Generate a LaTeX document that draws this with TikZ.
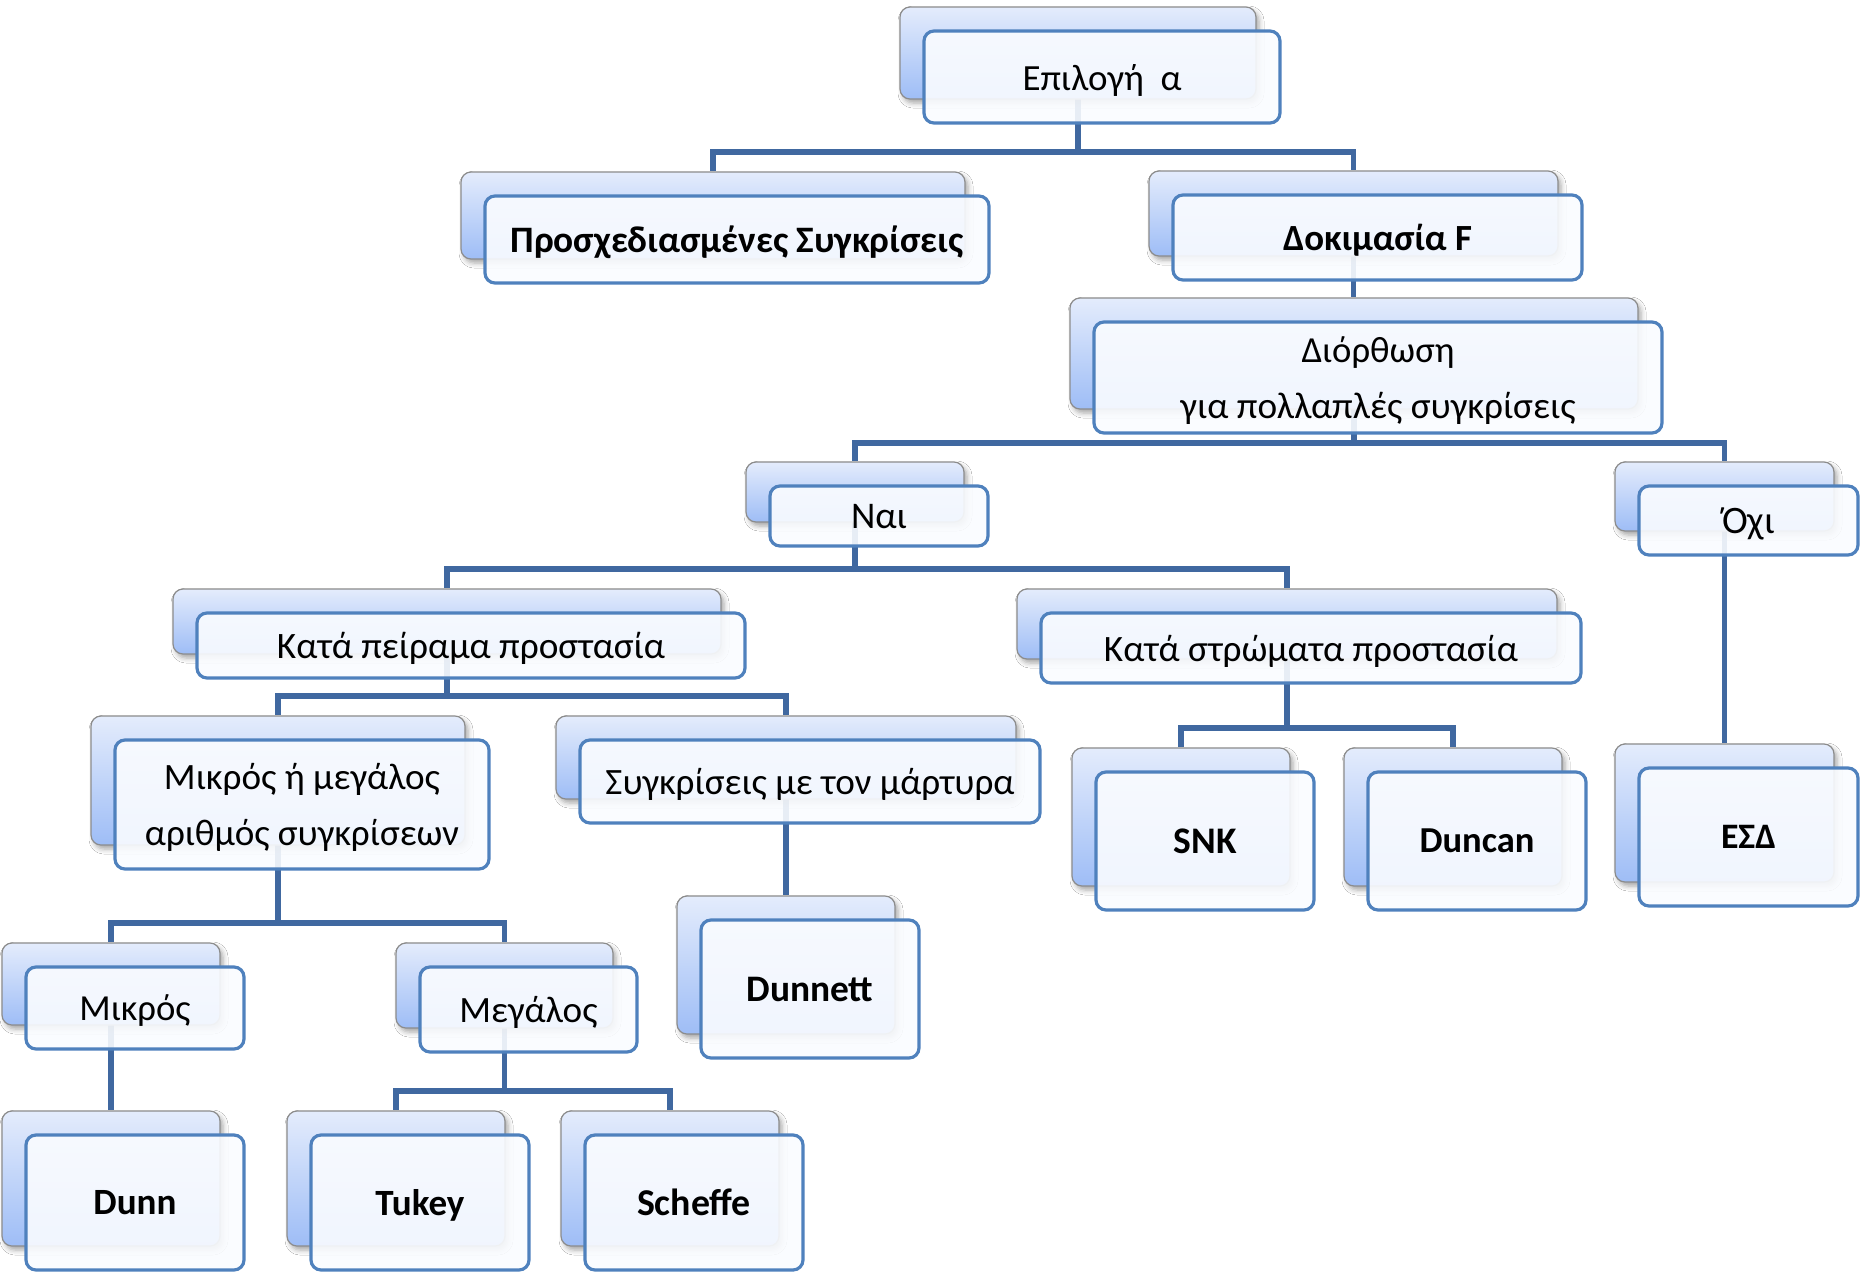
\documentclass[tikz,border=0pt]{standalone}
\usepackage{fontspec}
\setmainfont{Carlito}
\usetikzlibrary{backgrounds,shadows.blur}
\definecolor{connc}{RGB}{64,104,160}
\definecolor{fborder}{RGB}{79,129,189}
\definecolor{btop}{RGB}{228,236,252}
\definecolor{bbot}{RGB}{158,189,246}
\definecolor{bline}{RGB}{140,140,140}
\definecolor{ffill}{RGB}{250,252,255}
\newlength\pxu \setlength\pxu{0.5pt}
\newcommand\tw[2]{\raisebox{0pt}[\height][0pt]{\resizebox{#1\pxu}{!}{#2}}}
\tikzset{
  backbox/.style={rectangle, rounded corners=5pt, draw=bline, line width=0.6pt,
    top color=btop, bottom color=bbot, inner sep=0pt,
    blur shadow={shadow xshift=1.5pt, shadow yshift=-2pt, shadow opacity=35, shadow blur radius=2.5pt}},
  frontbox/.style={rectangle, rounded corners=5pt, draw=fborder, line width=1.6pt,
    fill=ffill, fill opacity=0.9, text opacity=1, draw opacity=1, inner sep=0pt,
    align=center, font=\fontsize{19}{28}\selectfont},
  conn/.style={draw=connc, line width=2.8pt}
}
\newcommand\cbox[6]{%
  \node[backbox, minimum width={(#4-#2)*0.5pt}, minimum height={(#5-#3)*0.5pt}]
    (#1B) at ({(#2+#4)/2-24},{(#3+#5)/2-24}) {};
  \node[frontbox, minimum width={(#4-#2)*0.5pt}, minimum height={(#5-#3)*0.5pt}]
    (#1) at ({(#2+#4)/2},{(#3+#5)/2}) {#6};
}
\begin{document}
\begin{tikzpicture}[x=0.5pt,y=-0.5pt]
\useasboundingbox (0,0) rectangle (1860,1271);
\cbox{epi}{924}{31}{1280}{123}{\tw{159}{Επιλογή~~α}}
\cbox{pros}{485}{196}{989}{283}{\tw{453}{\bfseries Προσχεδιασμένες Συγκρίσεις}}
\cbox{dok}{1173}{195}{1582}{280}{\tw{189}{\bfseries Δοκιμασία F}}
\cbox{dior}{1094}{322}{1662}{433}{\tw{153}{Διόρθωση}\\\tw{395}{για πολλαπλές συγκρίσεις}}
\cbox{nai}{770}{486}{988}{546}{\tw{56}{Ναι}}
\cbox{oxi}{1639}{486}{1858}{555}{\tw{53}{Όχι}}
\cbox{kpe}{197}{613}{745}{678}{\tw{388}{Κατά πείραμα προστασία}}
\cbox{kst}{1041}{613}{1581}{683}{\tw{414}{Κατά στρώματα προστασία}}
\cbox{mim}{115}{740}{489}{869}{\tw{276}{Μικρός ή μεγάλος}\\\tw{314}{αριθμός συγκρίσεων}}
\cbox{sym}{580}{740}{1040}{823}{\tw{409}{Συγκρίσεις με τον μάρτυρα}}
\cbox{snk}{1096}{772}{1314}{910}{\tw{63}{\bfseries SNK}}
\cbox{dun}{1368}{772}{1586}{910}{\tw{115}{\bfseries Duncan}}
\cbox{esd}{1639}{768}{1858}{906}{\tw{55}{\bfseries ΕΣΔ}}
\cbox{mik}{26}{967}{244}{1049}{\tw{111}{Μικρός}}
\cbox{meg}{420}{967}{637}{1052}{\tw{138}{Μεγάλος}}
\cbox{dnt}{701}{920}{919}{1058}{\tw{127}{\bfseries Dunnett}}
\cbox{dunn}{26}{1135}{244}{1270}{\tw{83}{\bfseries Dunn}}
\cbox{tuk}{311}{1135}{529}{1270}{\tw{89}{\bfseries Tukey}}
\cbox{sch}{585}{1135}{803}{1270}{\tw{114}{\bfseries Scheffe}}
\begin{pgfonlayer}{background}
\fill[white] (0,0) rectangle (1860,1271);
\draw[conn] (epiB.center) -- (epiB.center |- 0,152) -| (prosB.north);
\draw[conn] (epiB.center |- 0,152) -| (dokB.north);
\draw[conn] (dokB.center) -- (dokB.center |- diorB.north);
\draw[conn] (diorB.center) -- (diorB.center |- 0,443) -| (naiB.north);
\draw[conn] (diorB.center |- 0,443) -| (oxiB.north);
\draw[conn] (naiB.center) -- (naiB.center |- 0,569) -| (kpeB.north);
\draw[conn] (naiB.center |- 0,569) -| (kstB.north);
\draw[conn] (oxiB.center) -- (oxiB.center |- esdB.north);
\draw[conn] (kpeB.center) -- (kpeB.center |- 0,696) -| (mimB.north);
\draw[conn] (kpeB.center |- 0,696) -| (symB.north);
\draw[conn] (kstB.center) -- (kstB.center |- 0,728) -| (snkB.north);
\draw[conn] (kstB.center |- 0,728) -| (dunB.north);
\draw[conn] (symB.center) -- (symB.center |- dntB.north);
\draw[conn] (mimB.center) -- (mimB.center |- 0,923) -| (mikB.north);
\draw[conn] (mimB.center |- 0,923) -| (megB.north);
\draw[conn] (mikB.center) -- (mikB.center |- dunnB.north);
\draw[conn] (megB.center) -- (megB.center |- 0,1091) -| (tukB.north);
\draw[conn] (megB.center |- 0,1091) -| (schB.north);
\end{pgfonlayer}
\end{tikzpicture}
\end{document}
